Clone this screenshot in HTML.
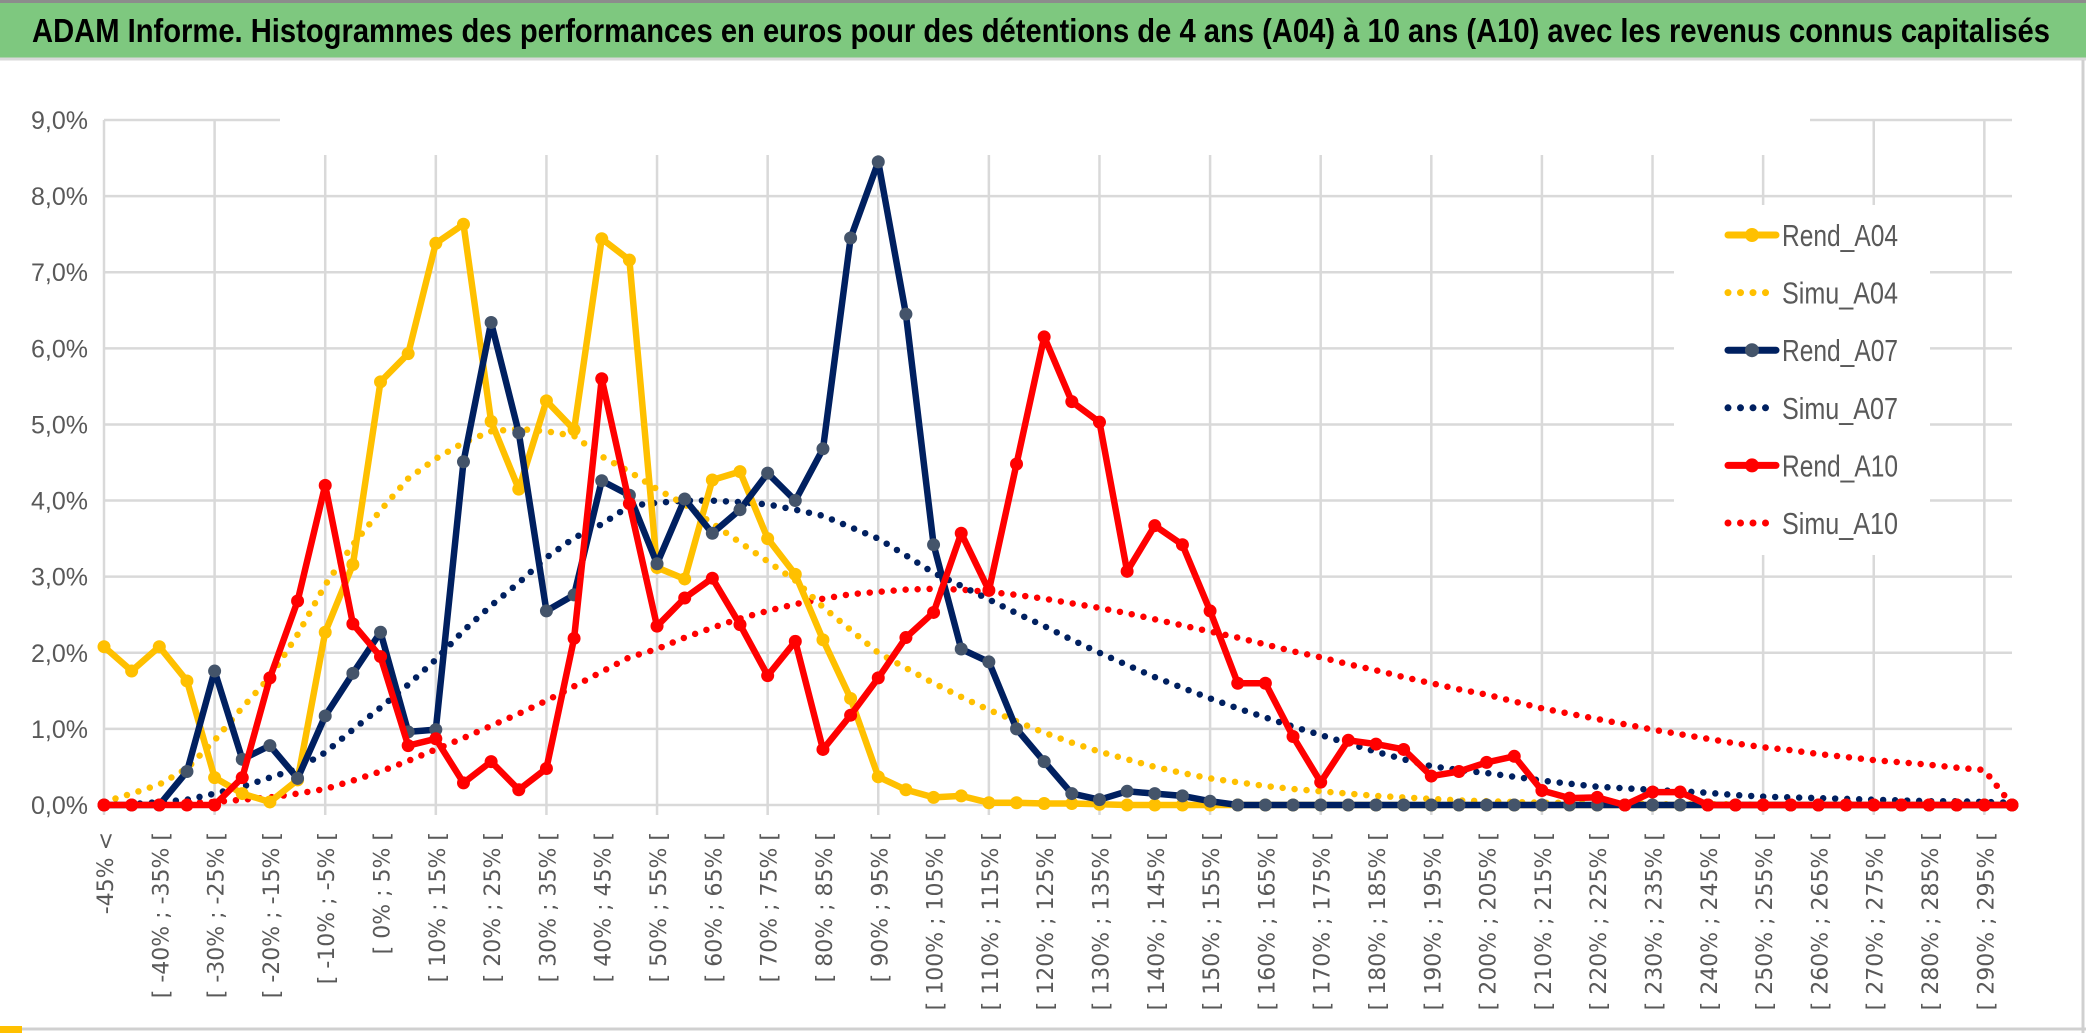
<!DOCTYPE html>
<html><head><meta charset="utf-8"><style>
html,body{margin:0;padding:0;background:#fff;width:2086px;height:1033px;overflow:hidden}
svg{display:block;font-family:"Liberation Sans Narrow","Liberation Sans",sans-serif}
</style></head><body>
<svg id="chart" width="2086" height="1033" viewBox="0 0 2086 1033">
<rect x="0" y="0" width="2086" height="1033" fill="#fff"/>
<rect x="0" y="2" width="2086" height="56" fill="#7ec87f"/>
<line x1="0" y1="1.5" x2="2086" y2="1.5" stroke="#8c8c8c" stroke-width="3"/>
<line x1="0" y1="59" x2="2086" y2="59" stroke="#d9d9d9" stroke-width="3"/>
<text x="32" y="42" font-size="33" font-weight="bold" fill="#000" textLength="2018" lengthAdjust="spacingAndGlyphs">ADAM Informe. Histogrammes des performances en euros pour des détentions de 4 ans (A04) à 10 ans (A10) avec les revenus connus capitalisés</text>
<text x="1043" y="110" font-size="27" fill="#595959" text-anchor="middle" textLength="1523" lengthAdjust="spacingAndGlyphs">Histogrammes observés (-) et modélisés (...) des performances par durées de détention pour Pictet Clean Energy Transition R EUR Acc.</text>
<text x="1046" y="147" font-size="27" fill="#595959" text-anchor="middle" textLength="882" lengthAdjust="spacingAndGlyphs">Cotations entre sept. 2007 et oct. 2025. Revenus CAPITALISES depuis sept. 2007.</text>
<g id="grid"></g>
<g id="yaxis"></g>
<g id="xaxis"></g>
<g id="series"></g>
<g id="legend"></g>
<line x1="2083" y1="60" x2="2083" y2="1033" stroke="#d0d0d0" stroke-width="3"/>
<line x1="0" y1="1029" x2="2086" y2="1029" stroke="#d0d0d0" stroke-width="3"/>
<rect x="0" y="1026" width="22" height="7" fill="#ffc000"/>
</svg>
<script>
const yTicks=[0,1,2,3,4,5,6,7,8,9];
const rendA04=[2.08,1.76,2.08,1.63,0.36,0.15,0.04,0.33,2.27,3.16,5.56,5.93,7.38,7.63,5.04,4.15,5.31,4.93,7.44,7.16,3.12,2.97,4.27,4.38,3.5,3.03,2.17,1.4,0.37,0.2,0.1,0.12,0.03,0.03,0.02,0.02,0.01,0,0,0,0,0,0,0,0,0,0,0,0,0,0,0,0,0,0,0,0,0,0,0,0,0,0,0,0,0,0,0,0,0];
const simuA04=[0.04,0.15,0.27,0.48,0.85,1.28,1.68,2.24,2.89,3.42,3.87,4.29,4.55,4.76,4.91,4.94,4.91,4.85,4.58,4.38,4.15,3.95,3.7,3.45,3.2,2.95,2.6,2.3,2.0,1.8,1.6,1.42,1.25,1.1,0.95,0.82,0.7,0.6,0.5,0.42,0.35,0.3,0.25,0.21,0.18,0.15,0.12,0.1,0.08,0.06,0.05,0.04,0.03,0.03,0.02,0.02,0.01,0.01,0.01,0.01,0,0,0,0,0,0,0,0,0,0];
const rendA07=[0,0,0,0.44,1.76,0.6,0.78,0.35,1.17,1.73,2.27,0.96,0.99,4.51,6.34,4.89,2.55,2.76,4.26,4.07,3.17,4.02,3.57,3.88,4.36,4.0,4.68,7.45,8.45,6.45,3.42,2.05,1.88,1.0,0.57,0.15,0.07,0.18,0.15,0.12,0.05,0,0,0,0,0,0,0,0,0,0,0,0,0,0,0,0,0,0,0,0,0,0,0,0,0,0,0,0,0];
const simuA07=[0,0.01,0.04,0.07,0.15,0.24,0.36,0.48,0.69,0.99,1.28,1.58,1.91,2.29,2.62,2.92,3.25,3.51,3.69,3.93,3.97,4.0,4.0,3.98,3.95,3.88,3.8,3.65,3.5,3.28,3.05,2.88,2.7,2.52,2.35,2.17,2.0,1.84,1.68,1.54,1.4,1.27,1.15,1.03,0.92,0.81,0.7,0.6,0.51,0.46,0.42,0.37,0.32,0.28,0.24,0.22,0.2,0.18,0.16,0.13,0.11,0.1,0.09,0.08,0.07,0.06,0.05,0.05,0.04,0.03];
const rendA10=[0,0,0,0,0,0.36,1.67,2.68,4.2,2.38,1.95,0.78,0.87,0.29,0.57,0.2,0.48,2.19,5.6,3.96,2.35,2.72,2.98,2.37,1.7,2.15,0.73,1.18,1.67,2.2,2.53,3.57,2.82,4.48,6.15,5.3,5.03,3.07,3.67,3.42,2.55,1.6,1.6,0.9,0.3,0.85,0.8,0.73,0.38,0.44,0.56,0.64,0.19,0.09,0.1,0,0.17,0.17,0,0,0,0,0,0,0,0,0,0,0,0];
const simuA10=[0,0.01,0.02,0.03,0.04,0.07,0.1,0.15,0.21,0.32,0.44,0.58,0.73,0.88,1.04,1.2,1.37,1.56,1.75,1.94,2.05,2.2,2.33,2.45,2.55,2.64,2.71,2.77,2.8,2.83,2.84,2.83,2.8,2.76,2.71,2.65,2.59,2.52,2.44,2.36,2.28,2.2,2.11,2.02,1.94,1.85,1.77,1.68,1.6,1.52,1.45,1.36,1.27,1.2,1.13,1.06,0.99,0.93,0.87,0.81,0.76,0.72,0.67,0.63,0.59,0.56,0.53,0.49,0.46,0];
const categories=[];
categories.push("-45% <");
for(let k=1;k<70;k++){const a=-45+5*(k-1);categories.push("[ "+a+"% ; "+(a+5)+"% [");}

const NS="http://www.w3.org/2000/svg";
const X0=104,X1=2012,Y0=805,Y9=120;
function xs(i){return X0+i*(X1-X0)/(categories.length-1);}
function ys(v){return Y0-(v/9)*(Y0-Y9);}
function mk(tag,attrs,parent){const e=document.createElementNS(NS,tag);for(const k in attrs)e.setAttribute(k,attrs[k]);parent.appendChild(e);return e;}
const grid=document.getElementById('grid'),yaxis=document.getElementById('yaxis'),xaxis=document.getElementById('xaxis'),series=document.getElementById('series'),legend=document.getElementById('legend');

yTicks.forEach(t=>{
  const l=mk('line',{x1:X0,x2:X1,y1:ys(t),y2:ys(t),stroke:'#d9d9d9','stroke-width':2.5},grid);
  
  
  const tx=mk('text',{x:88,y:ys(t)+9,'font-size':25,fill:'#595959','text-anchor':'end'},yaxis);
  tx.textContent=t.toFixed(1).replace('.',',')+'%';
  
  
});
for(let i=0;i<categories.length;i+=4){
  const l=mk('line',{x1:xs(i),x2:xs(i),y1:Y9,y2:Y0+10,stroke:'#d9d9d9','stroke-width':2.5},grid);
  
  
}
const m1=mk('rect',{x:280,y:85,width:1530,height:70,fill:'#fff'},grid);


categories.forEach((c,i)=>{
  if(i%2!==0)return;
  const x=xs(i)+9,y=832;
  const t=mk('text',{x:x,y:y,'font-size':22,fill:'#595959','text-anchor':'end','font-family':'"DejaVu Sans",sans-serif',transform:'rotate(-90 '+x+' '+y+')'},xaxis);
  t.textContent=c;
  
  
});

const defs=[
 {name:'Simu_A10',data:simuA10,color:'#ff0000',dotted:true},
 {name:'Simu_A07',data:simuA07,color:'#002060',dotted:true},
 {name:'Simu_A04',data:simuA04,color:'#ffc000',dotted:true},
 {name:'Rend_A04',data:rendA04,color:'#ffc000',mcolor:'#ffc000'},
 {name:'Rend_A07',data:rendA07,color:'#002060',mcolor:'#44546a'},
 {name:'Rend_A10',data:rendA10,color:'#ff0000',mcolor:'#ff0000'}
];
defs.forEach(s=>{
  const g=mk('g',{},series);
  
  
  const pts=s.data.map((v,i)=>xs(i).toFixed(1)+','+ys(v).toFixed(1)).join(' ');
  const pl=mk('polyline',{points:pts,fill:'none',stroke:s.color,'stroke-width':s.dotted?6.5:6.5,'stroke-linejoin':'round','stroke-linecap':'round'},g);
  if(s.dotted){pl.setAttribute('stroke-dasharray','0 12');}
  
  
  if(!s.dotted){
    s.data.forEach((v,i)=>{
      const c=mk('circle',{cx:xs(i),cy:ys(v),r:6.5,fill:s.mcolor},g);
      
      
    });
  }
});

const lb=mk('rect',{x:1674,y:205,width:256,height:350,fill:'#fff'},legend);


const legOrder=[
 {name:'Rend_A04',color:'#ffc000',m:'#ffc000',dotted:false},
 {name:'Simu_A04',color:'#ffc000',dotted:true},
 {name:'Rend_A07',color:'#002060',m:'#44546a',dotted:false},
 {name:'Simu_A07',color:'#002060',dotted:true},
 {name:'Rend_A10',color:'#ff0000',m:'#ff0000',dotted:false},
 {name:'Simu_A10',color:'#ff0000',dotted:true}
];
legOrder.forEach((s,k)=>{
  const y=235+57.6*k;
  const g=mk('g',{},legend);
  
  
  const l=mk('line',{x1:1728,x2:1776,y1:y,y2:y,stroke:s.color,'stroke-width':7,'stroke-linecap':'round'},g);
  if(s.dotted)l.setAttribute('stroke-dasharray','0 12.5');
  
  
  if(!s.dotted){
    const c=mk('circle',{cx:1752,cy:y,r:7,fill:s.m},g);
    
    
  }
  const t=mk('text',{x:1782,y:y+11,'font-size':31,fill:'#595959',textLength:116,lengthAdjust:'spacingAndGlyphs'},g);
  t.textContent=s.name;
  
  
});
</script>
</body></html>
